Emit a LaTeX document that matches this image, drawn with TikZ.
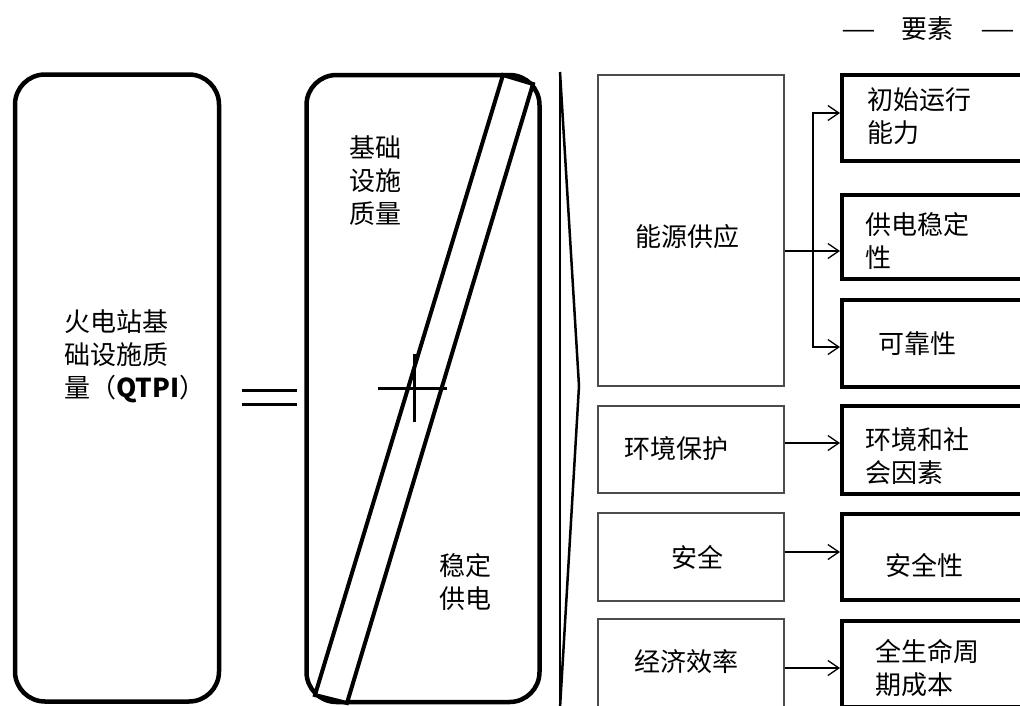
\documentclass[tikz,border=0pt]{standalone}
\usepackage{fontspec}
\setmainfont{Noto Sans CJK SC}
\usetikzlibrary{arrows.meta}
\begin{document}
\begin{tikzpicture}[x=1pt,y=-1pt,
  txt/.style={font=\fontsize{26pt}{33pt}\selectfont, text=black, inner sep=0pt},
  rbox/.style={draw=black, line width=4.5pt, rounded corners=30pt, inner sep=0pt, fill=white},
  sbox/.style={draw=black!70, line width=1.4pt, inner sep=0pt},
  ebox/.style={draw=black, line width=4pt, inner sep=0pt},
  arr/.style={-{Straight Barb[length=11pt,width=15pt]}, line width=1.3pt},
  heavy/.style={line width=3pt}]
\useasboundingbox (0,0) rectangle (1020,705);
\clip (0,0) rectangle (1020,705);

% header
\node[txt, anchor=west] (hdr) at (841,29) {\scalebox{1.5}[1]{—}\hspace{25pt}要素\hspace{27pt}\scalebox{1.5}[1]{—}};

% left rounded box
\node[rbox, minimum width=204pt, minimum height=627pt,
  label={[txt, align=left, xshift=18pt, yshift=32pt]center:火电站基\\础设施质\\量（{\bfseries QTPI}）}] (qtpi) at (117,388) {};

% equals sign
\coordinate (e1) at (242,390);
\coordinate (e2) at (297,390);
\coordinate (e3) at (242,404);
\coordinate (e4) at (297,404);
\draw[heavy] (e1) -- (e2);
\draw[heavy] (e3) -- (e4);

% middle rounded box with band
\node[rbox, minimum width=233pt, minimum height=627pt] (mid) at (423,388.5) {};
\draw[fill=white, line width=4pt, line join=miter] (503,75) -- (533,84) -- (347,703) -- (315,695) -- cycle;
\draw[heavy] (378,388) -- (447,388);
\draw[heavy] (414,354) -- (414,422);
\node[txt, align=left] (jc) at (375,181) {基础\\设施\\质量};
\node[txt, align=left] (wd) at (465,582) {稳定\\供电};

% chevron
\draw[line width=2.5pt] (560,72) -- (560,708);
\draw[line width=2.5pt, line join=miter] (560,72) -- (579,386) -- (560,708);

% category boxes
\node[sbox, minimum width=186pt, minimum height=311pt,
  label={[txt, xshift=-4pt, yshift=-6.5pt]center:能源供应}] (ny) at (691,230.5) {};
\node[sbox, minimum width=186pt, minimum height=87pt,
  label={[txt, xshift=-15pt, yshift=1pt]center:环境保护}] (hj) at (691,449.5) {};
\node[sbox, minimum width=186pt, minimum height=88pt,
  label={[txt, xshift=6pt]center:安全}] (aq) at (691,557) {};
\node[sbox, minimum width=186pt, minimum height=88pt,
  label={[txt, xshift=-5pt, yshift=1pt]center:经济效率}] (jj) at (691,663) {};

% element boxes
\node[ebox, minimum width=193pt, minimum height=86pt,
  label={[txt, align=left, anchor=west, xshift=27pt, yshift=2pt]west:初始运行\\能力}] (b1) at (938.5,118) {};
\node[ebox, minimum width=193pt, minimum height=84pt,
  label={[txt, align=left, anchor=west, xshift=25pt, yshift=-4.5pt]west:供电稳定\\性}] (b2) at (938.5,237) {};
\node[ebox, minimum width=193pt, minimum height=87pt,
  label={[txt, align=left, anchor=west, xshift=38pt]west:可靠性}] (b3) at (938.5,343.5) {};
\node[ebox, minimum width=193pt, minimum height=88pt,
  label={[txt, align=left, anchor=west, xshift=25pt, yshift=-6pt]west:环境和社\\会因素}] (b4) at (938.5,450) {};
\node[ebox, minimum width=193pt, minimum height=86pt,
  label={[txt, align=left, anchor=west, xshift=45pt, yshift=-8pt]west:安全性}] (b5) at (938.5,557) {};
\node[ebox, minimum width=193pt, minimum height=86pt,
  label={[txt, align=left, anchor=west, xshift=35pt, yshift=-4.5pt]west:全生命周\\期成本}] (b6) at (938.5,664) {};

% connectors
\coordinate (jn) at (813,251);
\coordinate (t1) at (0,113);
\coordinate (t3) at (0,347);
\coordinate (t4) at (0,443);
\coordinate (t5) at (0,552);
\coordinate (t6) at (0,668);
\draw[arr] (ny.east |- jn) -- (b2.west |- jn);
\draw[arr] (jn) |- (b1.west |- t1);
\draw[arr] (jn) |- (b3.west |- t3);
\draw[arr] (hj.east |- t4) -- (b4.west |- t4);
\draw[arr] (aq.east |- t5) -- (b5.west |- t5);
\draw[arr] (jj.east |- t6) -- (b6.west |- t6);
\end{tikzpicture}
\end{document}
